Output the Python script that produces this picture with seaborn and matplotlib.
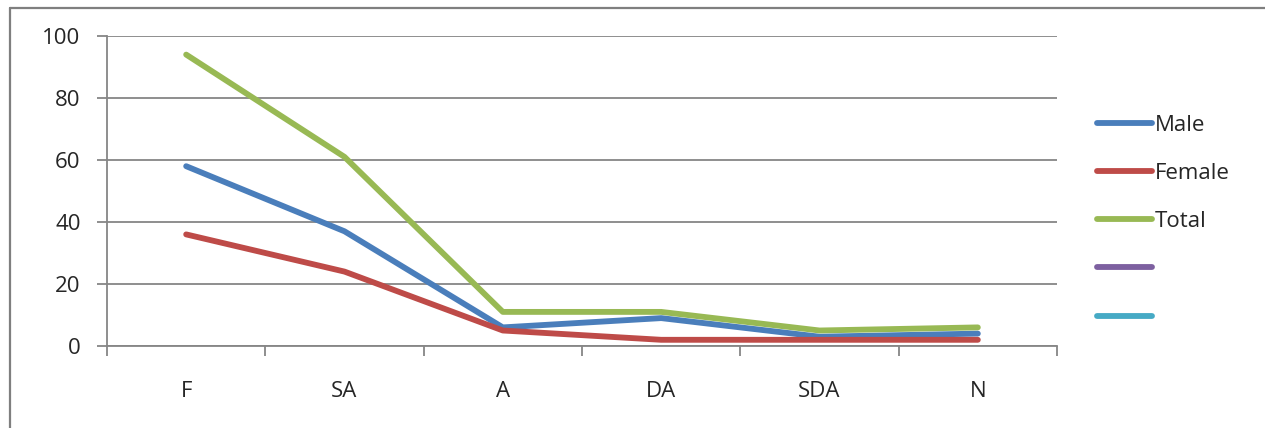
import pandas as pd
import matplotlib
matplotlib.use("Agg")
import matplotlib.pyplot as plt
from matplotlib.lines import Line2D
from matplotlib.ticker import FixedLocator
import seaborn as sns

# valeurs
categories = ["F", "SA", "A", "DA", "SDA", "N"]
male = [58, 37, 6, 9, 3, 4]
female = [36, 24, 5, 2, 2, 2]
total = [94, 61, 11, 11, 5, 6]
series_names = ["Male", "Female", "Total"]
colors = ["#4A7EBB", "#BE4B48", "#98B954"]
extra_colors = ["#7D60A0", "#46AAC5"]

sns.set_theme(style="white")
plt.rcParams['font.family'] = ['Open Sans', 'DejaVu Sans']

# mise en forme longue pour seaborn
df = pd.DataFrame({"cat": categories * 3,
                   "x": list(range(len(categories))) * 3,
                   "val": male + female + total,
                   "serie": sum([[s] * len(categories) for s in series_names], [])})

fig = plt.figure(figsize=(12.65, 4.28), dpi=100)
ax = fig.add_axes([107 / 1265, 82 / 428, 950 / 1265, 310 / 428])

sns.lineplot(data=df, x="x", y="val", hue="serie", hue_order=series_names,
             palette=colors, linewidth=4.2, ax=ax, legend=False,
             solid_capstyle="round", solid_joinstyle="round")

grey = "#868686"
ax.set_xlim(-0.5, len(categories) - 0.5)
ax.set_ylim(0, 100)
ax.set_yticks([0, 20, 40, 60, 80, 100])
ax.yaxis.grid(True, color=grey, linewidth=1.3)
ax.set_axisbelow(True)
ax.set_xticks(range(len(categories)))
ax.set_xticklabels(categories)
ax.xaxis.set_minor_locator(FixedLocator([i - 0.5 for i in range(len(categories) + 1)]))
ax.tick_params(axis="x", which="major", length=0, pad=25, labelsize=16)
ax.tick_params(axis="x", which="minor", length=7, width=1.3, color=grey, bottom=True)
ax.tick_params(axis="y", length=7, width=1.3, color=grey, pad=12, labelsize=16, left=True)
ax.set_xlabel("")
ax.set_ylabel("")
for s in ["top", "right"]:
    ax.spines[s].set_visible(False)
for s in ["left", "bottom"]:
    ax.spines[s].set_color(grey)
    ax.spines[s].set_linewidth(1.3)

# légende avec deux entrées vides
handles = [Line2D([], [], color=c, linewidth=4.2, solid_capstyle="round") for c in colors + extra_colors]
labels = series_names + ["", ""]
fig.legend(handles, labels, loc="upper left", bbox_to_anchor=(1088 / 1265, 1 - 106 / 428),
           frameon=False, fontsize=16, handlelength=2.5, handletextpad=0.1,
           labelspacing=1.22, borderaxespad=0)

# cadre autour du graphique
fig.add_artist(Line2D([10 / 1265, 10 / 1265], [0, 1 - 8 / 428], color="#7f7f7f", linewidth=1.6))
fig.add_artist(Line2D([10 / 1265, 1], [1 - 8 / 428, 1 - 8 / 428], color="#7f7f7f", linewidth=1.6))

fig.savefig("out.png", dpi=100)
